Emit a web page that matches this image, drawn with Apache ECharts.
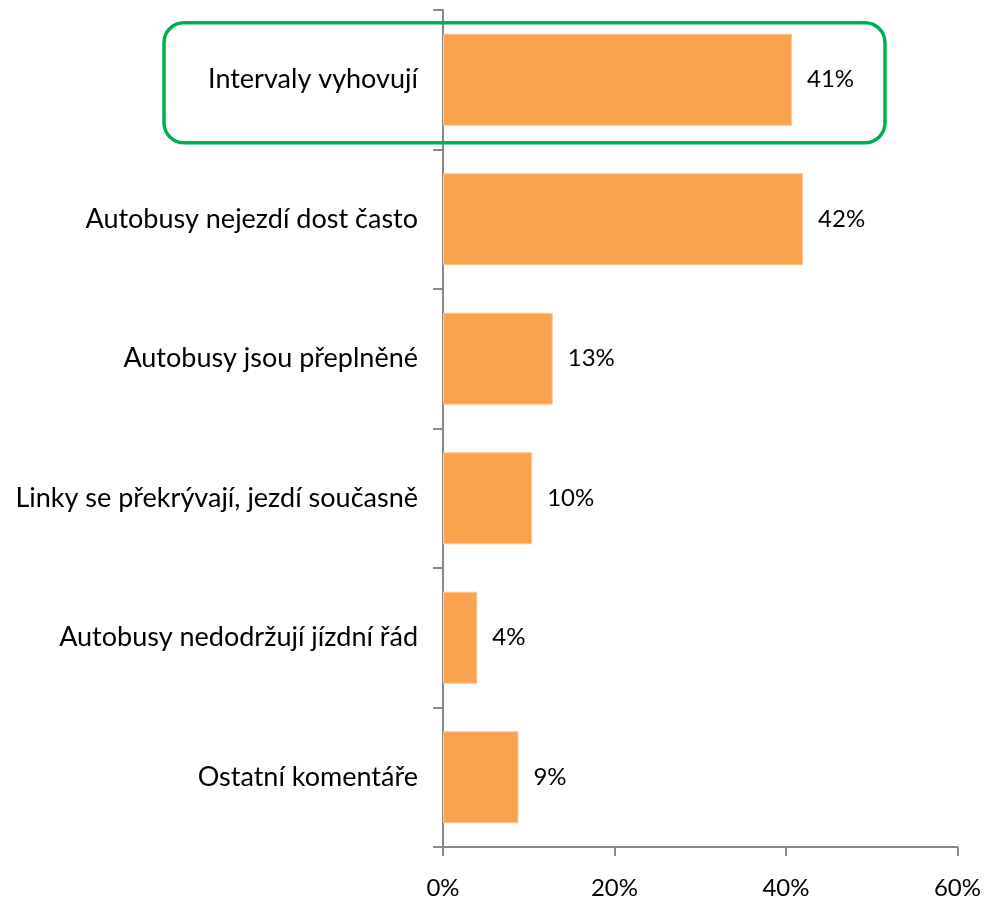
<!DOCTYPE html>
<html><head><meta charset="utf-8">
<script src="https://cdn.jsdelivr.net/npm/echarts@6/dist/echarts.min.js"></script>
<style>html,body{margin:0;padding:0;background:#fff}#c{width:984px;height:904px}</style>
</head><body><div id="c"></div>
<script>
const categories = [
  "Intervaly vyhovují",
  "Autobusy nejezdí dost často",
  "Autobusy jsou přeplněné",
  "Linky se překrývají, jezdí současně",
  "Autobusy nedodržují jízdní řád",
  "Ostatní komentáře"
];
const values = [40.7, 42.0, 12.8, 10.4, 4.0, 8.8];
const valueLabels = ["41%", "42%", "13%", "10%", "4%", "9%"];
const xTicks = [0, 20, 40, 60];

const FONT = "Lato";
const chart = echarts.init(document.getElementById('c'), null, {renderer: 'canvas'});
const option = {
  animation: false,
  backgroundColor: '#fff',
  grid: {left: 443, right: 26, top: 10, bottom: 57, containLabel: false},
  xAxis: {
    type: 'value', min: xTicks[0], max: xTicks[xTicks.length - 1], interval: 20,
    axisLine: {show: true, lineStyle: {color: '#888', width: 2}},
    axisTick: {show: true, length: 9, lineStyle: {color: '#888', width: 2}},
    splitLine: {show: false},
    axisLabel: {formatter: '{value}%', margin: 29, fontFamily: FONT, fontSize: 24, color: '#000'}
  },
  yAxis: {
    type: 'category', data: categories, inverse: true,
    axisLine: {show: true, lineStyle: {color: '#888', width: 2}},
    axisTick: {show: true, length: 10, lineStyle: {color: '#888', width: 2}},
    axisLabel: {margin: 25, fontFamily: FONT, fontSize: 27, color: '#000'}
  },
  series: [{
    type: 'bar', data: values, barCategoryGap: '34%',
    itemStyle: {color: '#FBA24F', borderColor: '#FDC89A', borderWidth: 1},
    label: {show: true, position: 'right', distance: 15, fontFamily: FONT, fontSize: 24, color: '#000',
      formatter: p => valueLabels[p.dataIndex]}
  }]
};
chart.setOption(option);
const c0 = chart.convertToPixel({gridIndex: 0}, [0, 0]);
chart.setOption({
  graphic: [{
    type: 'rect', z: 100,
    shape: {x: 164, y: c0[1] - 57, width: 721, height: 120, r: 20},
    style: {fill: 'none', stroke: '#00B050', lineWidth: 3.5}
  }]
});
</script></body></html>
